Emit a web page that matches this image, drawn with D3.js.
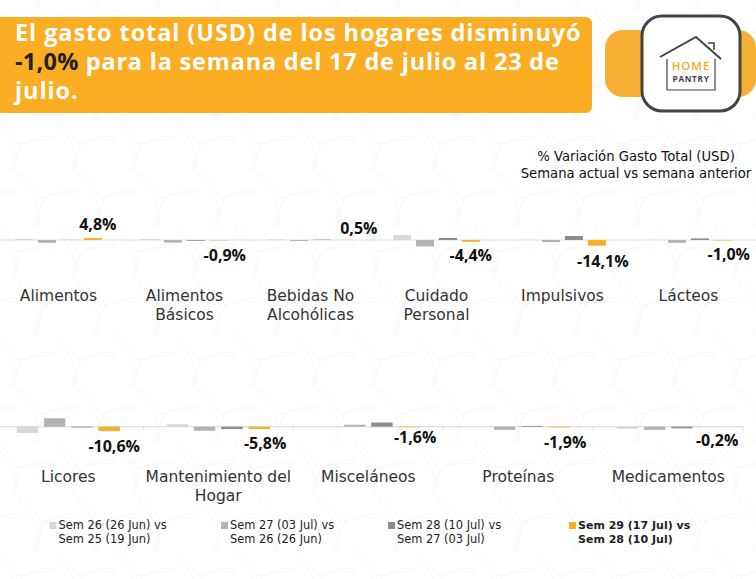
<!DOCTYPE html>
<html>
<head>
<meta charset="utf-8">
<script src="https://d3js.org/d3.v7.min.js"></script>
<style>
	html, body { margin: 0; padding: 0; background: #fff; }
	svg { display: block; }
	text { font-family: "DejaVu Sans", sans-serif; fill: #222; }
	.title { font-family: "Open Sans", sans-serif; font-weight: 700; font-size: 23.5px; letter-spacing: 0.9px; fill: #fff; }
	.val { font-family: "Open Sans", sans-serif; font-weight: 700; font-size: 16px; fill: #111; text-anchor: middle; }
	.cat { font-size: 15.5px; fill: #333; text-anchor: middle; }
	.sub { font-size: 13.2px; fill: #111; text-anchor: middle; }
	.leg { font-size: 11.4px; fill: #222; }
</style>
</head>
<body>
<div id="chart"></div>
<script>
"use strict"

// categories, one array per row of small charts
const catsTop = ["Alimentos", "Alimentos|Básicos", "Bebidas No|Alcohólicas", "Cuidado|Personal", "Impulsivos", "Lácteos"];
const catsBottom = ["Licores", "Mantenimiento del|Hogar", "Misceláneos", "Proteínas", "Medicamentos"];

// weekly variation (%)
const sem26Top = [3, 2.5, 1.5, 12, 0.2, 0.2];
const sem27Top = [-7, -6.5, -2.5, -16, -5, -7];
const sem28Top = [0.3, -2, 1, 5, 10, 4];
const sem29Top = [4.8, -0.9, 0.5, -4.4, -14.1, -1.0];

const sem26Bottom = [-16, 6, -0.4, 0.2, -5];
const sem27Bottom = [21, -10, 5, -8, -8];
const sem28Bottom = [-2, -6, 10.5, 2, -4];
const sem29Bottom = [-10.6, -5.8, -1.6, -1.9, -0.2];

const labelsTop = ["4,8%", "-0,9%", "0,5%", "-4,4%", "-14,1%", "-1,0%"];
const labelsBottom = ["-10,6%", "-5,8%", "-1,6%", "-1,9%", "-0,2%"];

const seriesNames = ["Sem 26", "Sem 27", "Sem 28", "Sem 29"];
const seriesColors = ["#d6d6d6", "#b2b2b2", "#8c8c8c", "#fbae24"];
const legendLines = [
	["Sem 26 (26 Jun) vs", "Sem 25 (19 Jun)"],
	["Sem 27 (03 Jul) vs", "Sem 26 (26 Jun)"],
	["Sem 28 (10 Jul) vs", "Sem 27 (03 Jul)"],
	["Sem 29 (17 Jul) vs", "Sem 28 (10 Jul)"]
];

const svg = d3.select("#chart").append("svg").attr("width", 756).attr("height", 579);

// faint watermark behind everything
function drawBackground() {
	let pattern = svg.append("defs").append("pattern")
		.attr("id", "swirl")
		.attr("patternUnits", "userSpaceOnUse")
		.attr("width", 60)
		.attr("height", 108)
		.attr("patternTransform", "translate(10,64)");
	[[30, 26], [7, 80], [67, 80], [-30, 26], [90, 26], [-53, 80]].forEach(c => {
		pattern.append("path")
			.attr("transform", `translate(${c[0]},${c[1]})`)
			.attr("fill", "none")
			.attr("stroke", "#f7f7f7")
			.attr("stroke-width", 1.1)
			.attr("d", "M0,0 C-3,-8 -9,-15 -17,-24 C-21,-27 -23,-25 -20,-21 C-14,-14 -7,-6 -3,5 C-1,14 -3,20 -6,28 C-7,31 -3,31 -2,28 C-1,18 -1,6 6,0 C14,-6 26,-8 36,-8 C39,-6 36,-3 33,-4 C22,-5 10,-3 0,0");
	});
	svg.append("rect").attr("width", 756).attr("height", 579).attr("fill", "url(#swirl)");
}

function drawHeader() {
	svg.append("path").attr("d", "M0,17 H585 Q592,17 592,24 V106 Q592,113 585,113 H0 Z").attr("fill", "#fbae24");
	let t = svg.append("text").attr("class", "title");
	t.append("tspan").attr("x", 15).attr("y", 41).text("El gasto total (USD) de los hogares disminuyó");
	t.append("tspan").attr("x", 15).attr("y", 70).style("fill", "#222").style("letter-spacing", "0.3px").text("-1,0%");
	t.append("tspan").style("letter-spacing", "0.8px").text(" para la semana del 17 de julio al 23 de");
	t.append("tspan").attr("x", 15).attr("y", 99).text("julio.");

	// logo
	svg.append("rect").attr("x", 605).attr("y", 30).attr("width", 151).attr("height", 67).attr("rx", 18).attr("fill", "#f7af35");
	svg.append("rect").attr("x", 642).attr("y", 16).attr("width", 98).attr("height", 95).attr("rx", 20)
		.attr("fill", "#fff").attr("stroke", "#444").attr("stroke-width", 3);
	let house = svg.append("g").attr("fill", "none").attr("stroke", "#444");
	house.append("path").attr("stroke-width", 2).attr("d", "M660,57 L696,37 L721,59");
	house.append("path").attr("stroke-width", 1.6).attr("d", "M708,43 H714 V50");
	house.append("path").attr("stroke-width", 1.2).attr("d", "M667,59 V90 H715 V59");
	svg.append("text").attr("x", 691).attr("y", 69.5).attr("text-anchor", "middle")
		.style("font-family", "'Open Sans'").style("font-size", "11.5px").style("letter-spacing", "1px")
		.style("fill", "#f7a823").style("font-weight", 600).text("HOME");
	svg.append("text").attr("x", 691).attr("y", 81.5).attr("text-anchor", "middle")
		.style("font-family", "'Open Sans'").style("font-size", "8.2px").style("letter-spacing", "0.7px")
		.style("fill", "#444").style("font-weight", 700).text("PANTRY");

	svg.append("text").attr("class", "sub").attr("x", 636).attr("y", 161).text("% Variación Gasto Total (USD)");
	svg.append("text").attr("class", "sub").attr("x", 636).attr("y", 178).text("Semana actual vs semana anterior");
}

function drawRow(opt) {
	let x = d3.scaleBand().domain(opt.cats).range(opt.xRange);
	let inner = d3.scaleBand().domain(seriesNames).range([0, x.step()]).paddingInner(0.215).paddingOuter(0.86);
	let y = d3.scaleLinear().domain([-50, 50]).range([opt.zero + 20, opt.zero - 20]);

	let g = svg.append("g");

	g.append("line").attr("x1", 0).attr("x2", opt.xEnd)
		.attr("y1", y(0)).attr("y2", y(0))
		.attr("stroke", "#e0e0e0").attr("stroke-width", 1.2);

	if (opt.ticks) {
		g.selectAll(".tick").data(opt.cats).enter().append("line")
			.attr("x1", d => x(d) + x.step()).attr("x2", d => x(d) + x.step())
			.attr("y1", y(0)).attr("y2", y(0) + 4)
			.attr("stroke", "#e0e0e0");
	}

	seriesNames.forEach((s, i) => {
		g.selectAll(".bar" + i).data(opt.series[i]).enter().append("rect")
			.attr("x", (d, j) => x(opt.cats[j]) + inner(s))
			.attr("width", inner.bandwidth())
			.attr("y", d => y(Math.max(0, d)))
			.attr("height", d => Math.abs(y(d) - y(0)))
			.attr("fill", seriesColors[i]);
	});

	// the value labels sit at hand-placed heights in the original
	g.selectAll(".val").data(opt.labels).enter().append("text")
		.attr("class", "val")
		.attr("x", (d, j) => x(opt.cats[j]) + inner("Sem 29") + inner.bandwidth() / 2 + opt.labelDx[j])
		.attr("y", (d, j) => opt.labelY[j])
		.text(d => d);

	opt.cats.forEach(c => {
		c.split("|").forEach((line, k) => {
			g.append("text").attr("class", "cat")
				.attr("x", x(c) + x.step() / 2)
				.attr("y", opt.catY + k * 19)
				.text(line);
		});
	});
}

function drawLegend() {
	let legendX = d3.scaleOrdinal().domain(seriesNames).range([49.5, 221, 388, 569]);
	seriesNames.forEach((s, i) => {
		svg.append("rect").attr("x", legendX(s)).attr("y", 522).attr("width", 7).attr("height", 7).attr("fill", seriesColors[i]);
		legendLines[i].forEach((line, k) => {
			svg.append("text").attr("class", "leg")
				.attr("x", legendX(s) + 9)
				.attr("y", 529 + k * 14)
				.style("font-weight", i == 3 ? 700 : 400)
				.style("font-size", i == 3 ? "11px" : null)
				.text(line);
		});
	});
}

drawBackground();
drawHeader();
drawRow({
	cats: catsTop,
	series: [sem26Top, sem27Top, sem28Top, sem29Top],
	labels: labelsTop,
	labelDx: [5, 6, 14, 0, 6, 6],
	labelY: [230, 261, 234, 261, 267, 260],
	xRange: [-4.5, 751.5],
	xEnd: 756,
	zero: 240,
	catY: 301,
	ticks: false
});
drawRow({
	cats: catsBottom,
	series: [sem26Bottom, sem27Bottom, sem28Bottom, sem29Bottom],
	labels: labelsBottom,
	labelDx: [5, 6, 6, 6, 8],
	labelY: [452, 449, 443, 448, 446],
	xRange: [-6.7, 743.3],
	xEnd: 743.3,
	zero: 426.7,
	catY: 482,
	ticks: true
});
drawLegend();
</script>
</body>
</html>
